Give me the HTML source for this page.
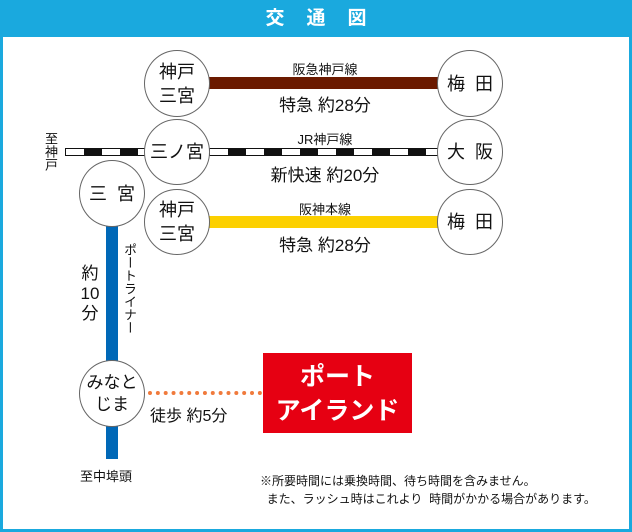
<!DOCTYPE html>
<html><head><meta charset="utf-8"><style>
body{margin:0;width:632px;height:532px;overflow:hidden;background:#fff;font-family:"Liberation Sans","Noto Sans CJK JP",sans-serif;}
.frame{position:absolute;left:0;top:0;width:626px;height:526px;border:3px solid #1aa9de;}
.hdr{position:absolute;left:0;top:0;width:632px;height:37px;background:#1aa9de;color:#fff;font-weight:bold;font-size:19px;text-align:center;line-height:37px;letter-spacing:22px;text-indent:22px}
.c{position:absolute;border:1px solid #666;border-radius:50%;background:#fff;box-sizing:border-box;display:flex;align-items:center;justify-content:center;text-align:center;font-size:18px;line-height:24px;color:#111}
.t{position:absolute;white-space:nowrap;color:#111;text-align:center}
.v{writing-mode:vertical-rl;position:absolute;color:#111}
</style></head><body>
<div class="frame"></div>
<div class="hdr">交通図</div>
<!-- lines -->
<div style="position:absolute;left:205px;top:77px;width:236px;height:12px;background:#6b1a00"></div>
<div style="position:absolute;left:205px;top:216px;width:236px;height:12px;background:#fcd000"></div>
<div style="position:absolute;left:65px;top:148px;width:375px;height:8px;box-sizing:border-box;border:1px solid #111;background:repeating-linear-gradient(90deg,#fff 0 18px,#111 18px 36px)"></div>
<div style="position:absolute;left:106px;top:225px;width:12px;height:234px;background:#0068b7"></div>
<div style="position:absolute;left:148px;top:391px;width:114px;border-top:4px dotted #f07a3c"></div>
<!-- circles -->
<div class="c" style="left:144px;top:50px;width:66px;height:67px">神戸<br>三宮</div>
<div class="c" style="left:437px;top:50px;width:66px;height:67px">梅&nbsp;&nbsp;田</div>
<div class="c" style="left:144px;top:119px;width:66px;height:66px">三ノ宮</div>
<div class="c" style="left:437px;top:119px;width:66px;height:66px">大&nbsp;&nbsp;阪</div>
<div class="c" style="left:79px;top:160px;width:66px;height:67px">三&nbsp;&nbsp;宮</div>
<div class="c" style="left:144px;top:189px;width:66px;height:66px">神戸<br>三宮</div>
<div class="c" style="left:437px;top:189px;width:66px;height:66px">梅&nbsp;&nbsp;田</div>
<div class="c" style="left:79px;top:360px;width:66px;height:67px;font-size:17px;line-height:22px">みなと<br>じま</div>
<!-- labels -->
<div class="t" style="left:260px;top:59px;width:130px;font-size:13px">阪急神戸線</div>
<div class="t" style="left:240px;top:91px;width:170px;font-size:17px">特急 約28分</div>
<div class="t" style="left:260px;top:129px;width:130px;font-size:13px">JR神戸線</div>
<div class="t" style="left:240px;top:161px;width:170px;font-size:17px">新快速 約20分</div>
<div class="t" style="left:260px;top:199px;width:130px;font-size:13px">阪神本線</div>
<div class="t" style="left:240px;top:231px;width:170px;font-size:17px">特急 約28分</div>
<div class="v" style="left:42px;top:132px;font-size:13px;line-height:16px">至神戸</div>
<div class="t" style="left:78px;top:264px;width:24px;font-size:17px;line-height:20px">約<br>10<br>分</div>
<div class="v" style="left:121px;top:243px;font-size:13px;line-height:16px">ポートライナー</div>
<div class="t" style="left:150px;top:402px;font-size:16px">徒歩 約5分</div>
<div class="t" style="left:80px;top:466px;font-size:13px">至中埠頭</div>
<div style="position:absolute;left:263px;top:353px;width:149px;height:80px;background:#e60012;color:#fff;font-weight:bold;font-size:25px;line-height:34px;text-align:center;padding-top:7px;box-sizing:border-box">ポート<br>アイランド</div>
<div class="t" style="left:260px;top:472px;font-size:12px;text-align:left;line-height:18px">※所要時間には乗換時間、待ち時間を含みません。<br>&nbsp;&nbsp;また、ラッシュ時はこれより&nbsp;&nbsp;時間がかかる場合があります。</div>
</body></html>
